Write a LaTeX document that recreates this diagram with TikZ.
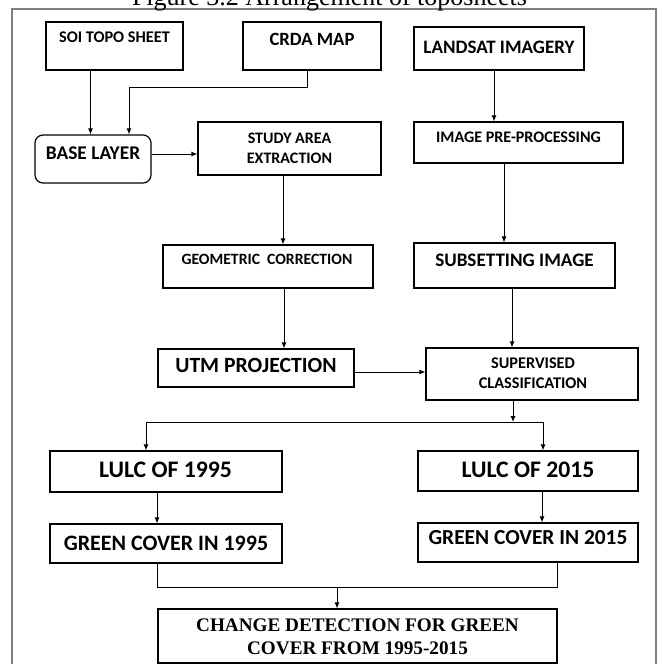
\documentclass[tikz,border=0pt]{standalone}
\usepackage{fontspec}
\setmainfont{Carlito}
\newfontfamily\timesfont{Liberation Serif}
\usetikzlibrary{arrows.meta}

\begin{document}
\begin{tikzpicture}[x=1pt, y=-1pt,
        box/.style={draw, line width=1.2pt, inner sep=0pt},
        lbl/.style={font={\bfseries\fontsize{#1}{20}\selectfont}, align=center, inner sep=0pt},
        arr/.style={-{Latex[length=6pt,width=5pt]}, line width=0.9pt}]
        \useasboundingbox (0,0) rectangle (667,664);
        \draw[gray, line width=1.5pt] (12,9) rectangle (656,700);
        \node[font={\timesfont\fontsize{26}{30}\selectfont}, anchor=base, inner sep=0pt] (title) at (329.5,5.5) {Figure 3.2 Arrangement of toposheets};

        \node[box, minimum width=137pt, minimum height=48pt] (soi) at (114.5,46) {};
        \node[box, minimum width=138pt, minimum height=48pt] (crda) at (312,46) {};
        \node[box, minimum width=170pt, minimum height=43pt] (land) at (499,48.5) {};
        \node[box, rounded corners=8pt, minimum width=116pt, minimum height=48pt] (base) at (93,159) {};
        \node[box, minimum width=183pt, minimum height=53pt] (study) at (289.5,148.5) {};
        \node[box, minimum width=209pt, minimum height=41pt] (pre) at (518.5,142.5) {};
        \node[box, minimum width=210pt, minimum height=43pt] (geom) at (268,266.5) {};
        \node[box, minimum width=201pt, minimum height=45pt] (subset) at (514.5,265.5) {};
        \node[box, minimum width=196pt, minimum height=38pt] (utm) at (256,368) {};
        \node[box, minimum width=212pt, minimum height=52pt] (sup) at (532,374) {};
        \node[box, minimum width=232pt, minimum height=41pt] (lulc95) at (166,471.5) {};
        \node[box, minimum width=220pt, minimum height=40pt] (lulc15) at (528,471) {};
        \node[box, minimum width=232pt, minimum height=39pt] (green95) at (166,543.5) {};
        \node[box, minimum width=220pt, minimum height=39pt] (green15) at (528,542.5) {};
        \node[box, minimum width=399pt, minimum height=54pt] (change) at (357.5,636) {};

        \node[lbl=16.3] (soi-t) at (114.5,37) {SOI TOPO SHEET};
        \node[lbl=18.7] (crda-t) at (312,39) {CRDA MAP};
        \node[lbl=19] (land-t) at (499,47) {LANDSAT IMAGERY};
        \node[lbl=19.4] (base-t) at (93,153) {BASE LAYER};
        \node[lbl=16] (study-t) at (289.5,148) {STUDY AREA\\EXTRACTION};
        \node[lbl=16.1] (pre-t) at (518.5,137) {IMAGE PRE-PROCESSING};
        \node[lbl=15.7] (geom-t) at (267,259) {GEOMETRIC~ CORRECTION};
        \node[lbl=19.1] (subset-t) at (514.5,260) {SUBSETTING IMAGE};
        \node[lbl=21.7] (utm-t) at (256,365) {UTM PROJECTION};
        \node[lbl=16.3] (sup-t) at (533,373) {SUPERVISED\\CLASSIFICATION};
        \node[lbl=23.7] (lulc95-t) at (165.5,470) {LULC OF 1995};
        \node[lbl=23.7] (lulc15-t) at (528,470) {LULC OF 2015};
        \node[lbl=22] (green95-t) at (166,543) {GREEN COVER IN 1995};
        \node[lbl=21.4] (green15-t) at (528,538) {GREEN COVER IN 2015};
        \node[font={\timesfont\bfseries\fontsize{19.2}{23}\selectfont}, align=center, inner sep=0pt] (change-t) at (357.5,636.5) {CHANGE DETECTION FOR GREEN\\COVER FROM 1995-2015};

        % connectors
        \draw[arr] ([xshift=-24]soi.south) coordinate (a1) -- (a1 |- base.north);
        \draw[arr] ([xshift=-5]crda.south) -- ++(0,17) -| ([xshift=36]base.north);
        \draw[arr] ([xshift=-5]land.south) coordinate (a2) -- (a2 |- pre.north);
        \draw[arr] ([yshift=5]base.east) coordinate (a3) -- (a3 -| study.west);
        \draw[arr] ([xshift=-6.5]study.south) coordinate (a4) -- (a4 |- geom.north);
        \draw[arr] ([xshift=-14.5]pre.south) coordinate (a5) -- (a5 |- subset.north);
        \draw[arr] ([xshift=16]geom.south) coordinate (a6) -- (a6 |- utm.north);
        \draw[arr] ([xshift=-2.5]subset.south) coordinate (a7) -- (a7 |- sup.north);
        \draw[arr] ([yshift=-4]utm.east) coordinate (a8) -- (a8 -| sup.west);
        \coordinate (fork) at (513,422);
        \draw[arr] ([xshift=-19]sup.south) -- (fork);
        \draw[arr] (fork) -| ([xshift=-20]lulc95.north);
        \draw[arr] (fork) -| ([xshift=15]lulc15.north);
        \draw[arr] ([xshift=-9]lulc95.south) coordinate (a9) -- (a9 |- green95.north);
        \draw[arr] ([xshift=14]lulc15.south) coordinate (a10) -- (a10 |- green15.north);
        \coordinate (join) at (337,587);
        \draw[line width=0.9pt] ([xshift=-9]green95.south) -- ++(0,24) -| ([xshift=29]green15.south);
        \draw[arr] (join) -- (join |- change.north);
    \end{tikzpicture}
\end{document}
